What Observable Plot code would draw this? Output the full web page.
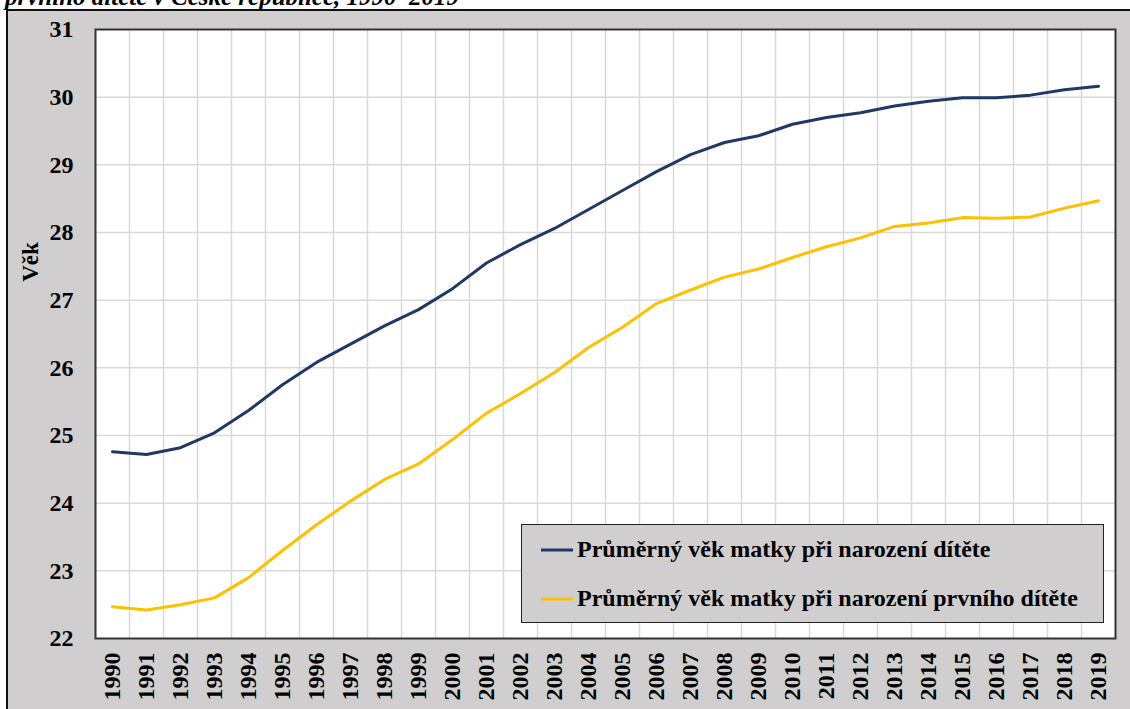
<!DOCTYPE html>
<html>
<head>
<meta charset="utf-8">
<script src="https://cdn.jsdelivr.net/npm/d3@7"></script>
<script src="https://cdn.jsdelivr.net/npm/@observablehq/plot@0.6"></script>
<style>
  html, body { margin: 0; padding: 0; background: #ffffff; }
  #page { position: relative; width: 1130px; height: 709px; overflow: hidden; font-family: "Liberation Serif", "Times New Roman", "DejaVu Serif", serif; }
  #title { position: absolute; left: 5px; top: -17px; font-size: 25px; font-weight: bold; font-style: italic; white-space: nowrap; color: #000; }
  #frame { position: absolute; left: 6px; top: 9px; width: 1140px; height: 720px; background: #d0cecf; border: 2px solid #111; box-sizing: border-box; }
  #chart { position: absolute; left: 0; top: 0; }
  #chart svg text { font-family: "Liberation Serif", "Times New Roman", "DejaVu Serif", serif; }
  #ylabel { position: absolute; left: 31px; top: 262px; transform: translate(-50%, -50%) rotate(-90deg); font-size: 23px; font-weight: bold; white-space: nowrap; }
  #legend { position: absolute; left: 521px; top: 524px; width: 583px; height: 99px; background: #d0cecf; border: 1.5px solid #222; box-sizing: border-box; }
  .item { position: absolute; left: 19px; display: flex; align-items: center; font-size: 24px; font-weight: bold; white-space: nowrap; }
  .item svg { margin-right: 4px; }
</style>
</head>
<body>
<div id="page">
  <div id="title">prvního dítěte v České republice, 1990–2019</div>
  <div id="frame"></div>
  <div id="chart"></div>
  <div id="ylabel">Věk</div>
  <div id="legend"></div>
</div>
<script>
const years = d3.range(1990, 2020);
const seriesNames = [
  "Průměrný věk matky při narození dítěte",
  "Průměrný věk matky při narození prvního dítěte"
];
const seriesColors = ["#1f3864", "#ffc000"];
const allBirths = [24.76, 24.72, 24.82, 25.04, 25.37, 25.75, 26.08, 26.35, 26.62, 26.86,
                   27.17, 27.55, 27.82, 28.06, 28.34, 28.62, 28.90, 29.15, 29.33, 29.43,
                   29.60, 29.70, 29.77, 29.87, 29.94, 29.99, 29.99, 30.03, 30.11, 30.16];
const firstBirths = [22.47, 22.42, 22.50, 22.60, 22.90, 23.30, 23.68, 24.03, 24.35, 24.58,
                     24.94, 25.33, 25.62, 25.93, 26.30, 26.60, 26.95, 27.15, 27.34, 27.46,
                     27.63, 27.79, 27.92, 28.09, 28.14, 28.22, 28.21, 28.23, 28.36, 28.47];
const yTicks = d3.range(22, 32);

const data = [
  ...years.map((y, i) => ({year: y, value: allBirths[i], series: seriesNames[0]})),
  ...years.map((y, i) => ({year: y, value: firstBirths[i], series: seriesNames[1]}))
];
const boundaries = d3.range(years[0] - 0.5, years[years.length - 1] + 1, 1);
const serif = "Liberation Serif, Times New Roman, DejaVu Serif, serif";

const chart = Plot.plot({
  width: 1130,
  height: 709,
  marginLeft: 95,
  marginRight: 15,
  marginTop: 29,
  marginBottom: 71,
  style: {background: "transparent", fontFamily: serif},
  x: {type: "linear", domain: [years[0] - 0.5, years[years.length - 1] + 0.5]},
  y: {domain: [22, 31]},
  color: {domain: seriesNames, range: seriesColors},
  marks: [
    Plot.frame({fill: "white", stroke: "none"}),
    Plot.ruleX(boundaries.slice(1, -1), {stroke: "#d9d9d9", strokeWidth: 1.5}),
    Plot.ruleY(yTicks.slice(1, -1), {stroke: "#d9d9d9", strokeWidth: 1.5}),
    Plot.axisX(years, {tickSize: 0, tickPadding: 14, tickRotate: -90, tickFormat: d => String(d),
      fontSize: 24, fontWeight: "bold", fill: "#000", textAnchor: "end", label: null, fontFamily: serif}),
    Plot.axisY(yTicks, {tickSize: 0, tickPadding: 22, tickFormat: d => String(d), fontSize: 24, fontWeight: "bold", fill: "#000", label: null, fontFamily: serif}),
    Plot.line(data, {x: "year", y: "value", z: "series", stroke: "series", strokeWidth: 3, curve: "linear"}),
    Plot.frame({stroke: "#333", strokeWidth: 2})
  ]
});
document.getElementById("chart").appendChild(chart);

const legend = document.getElementById("legend");
seriesNames.forEach((name, i) => {
  const item = document.createElement("div");
  item.className = "item";
  item.style.top = (i === 0 ? 11 : 60) + "px";
  item.innerHTML = `<svg width="32" height="4"><line x1="0" y1="2" x2="32" y2="2" stroke="${seriesColors[i]}" stroke-width="3"/></svg><span></span>`;
  item.querySelector("span").textContent = name;
  legend.appendChild(item);
});
</script>
</body>
</html>
